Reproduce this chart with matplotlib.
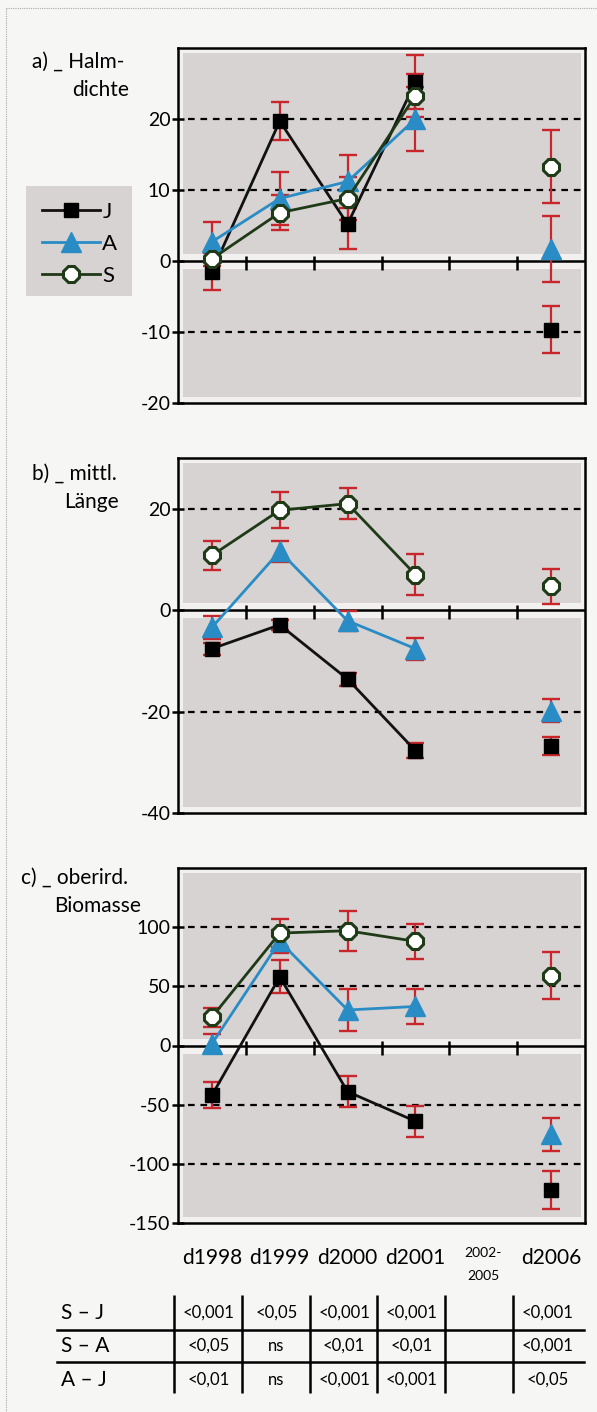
import numpy as np
import matplotlib
matplotlib.use('Agg')
import matplotlib.pyplot as plt
from matplotlib.lines import Line2D
from matplotlib.patches import Rectangle

plt.rcParams['font.family'] = ['Lato', 'DejaVu Sans']

# categories (x positions 0..5), 2002-2005 has no data
categories = ['d1998', 'd1999', 'd2000', 'd2001', '2002-\n2005', 'd2006']
nan = np.nan

# a) Halmdichte
a_J = [-1.5, 19.7, 5.2, 25.2, nan, -9.7]
a_J_err = [2.6, 2.7, 3.5, 3.8, nan, 3.3]
a_A = [2.7, 8.8, 11.2, 20.0, nan, 1.7]
a_A_err = [2.8, 3.7, 3.8, 4.5, nan, 4.7]
a_S = [0.3, 6.8, 8.8, 23.3, nan, 13.3]
a_S_err = [1.0, 2.5, 3.0, 3.0, nan, 5.2]

# b) mittl. Laenge
b_J = [-7.6, -2.9, -13.6, -27.7, nan, -26.8]
b_J_err = [1.2, 1.0, 1.3, 1.5, nan, 1.7]
b_A = [-3.4, 11.6, -2.1, -7.6, nan, -19.8]
b_A_err = [2.3, 2.1, 2.0, 2.2, nan, 2.3]
b_S = [10.8, 19.7, 21.0, 7.0, nan, 4.7]
b_S_err = [2.8, 3.6, 3.0, 4.0, nan, 3.4]

# c) oberird. Biomasse
c_J = [-42, 58, -39, -64, nan, -122]
c_J_err = [11, 14, 13, 13, nan, 16]
c_A = [1.5, 88, 30, 33, nan, -75]
c_A_err = [8, 10, 18, 15, nan, 14]
c_S = [24, 95, 97, 88, nan, 59]
c_S_err = [8, 12, 17, 15, nan, 20]

# p-value table
row_labels = ['S – J', 'S – A', 'A – J']
p_SJ = ['<0,001', '<0,05', '<0,001', '<0,001', '', '<0,001']
p_SA = ['<0,05', 'ns', '<0,01', '<0,01', '', '<0,001']
p_AJ = ['<0,01', 'ns', '<0,001', '<0,001', '', '<0,05']

W, H = 597, 1412
fig = plt.figure(figsize=(W / 100, H / 100), dpi=100)
fig.patch.set_facecolor('#f6f6f5')

# thin dotted border of the scan
fig.add_artist(Line2D([6 / W, 6 / W], [0, 1 - 8 / H], transform=fig.transFigure,
                      color='#aaaaaa', lw=0.8, ls=(0, (1, 1))))
fig.add_artist(Line2D([6 / W, 1], [1 - 8 / H, 1 - 8 / H], transform=fig.transFigure,
                      color='#aaaaaa', lw=0.8, ls=(0, (1, 1))))

c_black = '#111111'
c_blue = '#2a8cc4'
c_green = '#1f3a16'
c_red = '#c8262b'
c_gray = '#d7d3d3'


def fx(x):
    return x / W


def fy(y):
    return 1 - y / H


panels = [
    dict(top=48, ylim=(-20, 30), yticks=[-20, -10, 0, 10, 20], grid=[-10, 10, 20],
         J=a_J, Je=a_J_err, A=a_A, Ae=a_A_err, S=a_S, Se=a_S_err,
         t1=('a) _ Halm-', 32, 62), t2=('dichte', 129, 90)),
    dict(top=458, ylim=(-40, 30), yticks=[-40, -20, 0, 20], grid=[-20, 20],
         J=b_J, Je=b_J_err, A=b_A, Ae=b_A_err, S=b_S, Se=b_S_err,
         t1=('b) _ mittl.', 32, 474), t2=('Länge', 119, 502)),
    dict(top=868, ylim=(-150, 150), yticks=[-150, -100, -50, 0, 50, 100], grid=[-100, -50, 50, 100],
         J=c_J, Je=c_J_err, A=c_A, Ae=c_A_err, S=c_S, Se=c_S_err,
         t1=('c) _ oberird.', 21, 878), t2=('Biomasse', 141, 906)),
]

x = np.arange(len(categories))
ax_h = 355
axes = []
handles = None
for p in panels:
    ax = fig.add_axes([fx(178), fy(p['top'] + ax_h), fx(407), ax_h / H])
    axes.append(ax)
    ymin, ymax = p['ylim']
    ax.set_xlim(-0.5, 5.5)
    ax.set_ylim(ymin, ymax)
    ax.set_facecolor('#f2f1f0')
    upp = (ymax - ymin) / ax_h  # data units per pixel
    ax.axhspan(7 * upp, ymax - 5 * upp, xmin=0.012, xmax=0.99, color=c_gray, lw=0, zorder=0)
    ax.axhspan(ymin + 6 * upp, -8 * upp, xmin=0.012, xmax=0.99, color=c_gray, lw=0, zorder=0)
    for g in p['grid']:
        ax.axhline(g, xmin=0.025, color='black', lw=1.6, ls=(0, (3, 2.6)), zorder=1)
    ax.axhline(0, color='black', lw=1.8, zorder=1)
    y0 = (0 - ymin) / (ymax - ymin)
    ax.vlines(np.arange(5) + 0.5, y0 - 0.026, y0 + 0.014, color='black', lw=1.8,
              transform=ax.get_xaxis_transform(), zorder=1)

    for key in ['J', 'A', 'S']:
        ax.errorbar(x, p[key], yerr=p[key + 'e'], fmt='none', ecolor=c_red,
                    elinewidth=1.6, capsize=6.5, capthick=1.7, zorder=2)
    lJ, = ax.plot(x, p['J'], color=c_black, lw=2, marker='s', ms=10.5,
                  mfc='black', mec='black', zorder=3, label='J')
    lA, = ax.plot(x, p['A'], color=c_blue, lw=2, marker='^', ms=14,
                  mfc=c_blue, mec=c_blue, zorder=4, label='A')
    lS, = ax.plot(x, p['S'], color=c_green, lw=2, marker='8', ms=12.5,
                  mfc='white', mec=c_green, mew=2.2, zorder=5, label='S')
    if handles is None:
        handles = [lJ, lA, lS]

    ax.set_yticks(p['yticks'])
    ax.set_yticklabels([str(t) for t in p['yticks']])
    ax.tick_params(axis='y', direction='inout', length=9, width=1.8, labelsize=14, pad=1)
    ax.tick_params(axis='x', bottom=False, labelbottom=False)
    for s in ax.spines.values():
        s.set_linewidth(1.8)

    t, tx, ty = p['t1']
    fig.text(fx(tx), fy(ty), t, fontsize=15, ha='left', va='center')
    t, tx, ty = p['t2']
    fig.text(fx(tx), fy(ty), t, fontsize=15, ha='right', va='center')

# legend box in panel a
fig.add_artist(Rectangle((fx(26), fy(296)), fx(106), 110 / H, transform=fig.transFigure,
                         facecolor=c_gray, edgecolor='none', zorder=0))
axes[0].legend(handles=handles, loc='center', bbox_to_anchor=(fx(80), fy(244)),
               bbox_transform=fig.transFigure, fontsize=16, frameon=False,
               handlelength=2.6, handletextpad=0.1, labelspacing=0.55,
               borderpad=0, borderaxespad=0)

# category labels and p-value table under panel c
axc = axes[2]
tr = axc.get_xaxis_transform()
for i, lab in enumerate(categories):
    if '\n' in lab:
        axc.text(x[i], -0.118, lab, transform=tr, ha='center', va='center',
                 fontsize=10, linespacing=2.1, clip_on=False)
    else:
        axc.text(x[i], -0.099, lab, transform=tr, ha='center', va='center',
                 fontsize=15, clip_on=False)

row_y = [-0.2535, -0.3465, -0.442]
for ry, lab, vals in zip(row_y, row_labels, [p_SJ, p_SA, p_AJ]):
    axc.text(-0.287, ry, lab, transform=axc.transAxes, ha='left', va='center',
             fontsize=15, clip_on=False)
    for i, v in enumerate(vals):
        axc.text(x[i] - 0.05, ry, v, transform=tr, ha='center', va='center',
                 fontsize=12, clip_on=False)

for hy in [-0.3014, -0.3915]:
    axc.add_artist(Line2D([-0.297, 0.998], [hy, hy], transform=axc.transAxes,
                          color='black', lw=1.8, clip_on=False))
axc.vlines(np.arange(6) - 0.56, -0.479, -0.203, transform=tr, color='black',
           lw=1.8, clip_on=False)

fig.savefig('out.png', dpi=100, facecolor=fig.get_facecolor())
